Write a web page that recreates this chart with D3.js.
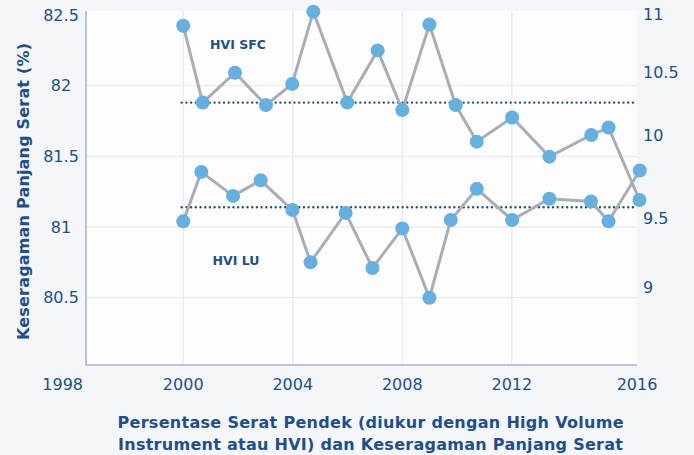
<!DOCTYPE html>
<html>
<head>
<meta charset="utf-8">
<script src="https://cdn.jsdelivr.net/npm/d3@7"></script>
<style>
body { margin: 0; background: #f4f6f9; }
text { font-family: "DejaVu Sans", sans-serif; fill: #1d4f8e; }
</style>
</head>
<body>
<script>
var xTicks = [1998, 2000, 2004, 2008, 2012, 2016];
var leftTicks = [80.5, 81, 81.5, 82, 82.5];
var rightTicks = [9, 9.5, 10, 10.5, 11];

// HVI SFC (right axis)
var sfcYears = [2000.0, 2000.71, 2001.89, 2003.02, 2003.98, 2004.75, 2005.99, 2007.10, 2008.0,
    2008.99, 2009.95, 2010.72, 2012.01, 2013.37, 2014.90, 2015.53, 2016.66];
var sfcValues = [10.90, 10.26, 10.50, 10.24, 10.41, 11.02, 10.26, 10.69, 10.20,
    10.91, 10.24, 9.96, 10.14, 9.87, 10.0, 10.06, 9.61];

// HVI LU (left axis)
var luYears = [2000.0, 2000.66, 2001.82, 2002.83, 2003.99, 2004.65, 2005.93, 2006.91, 2008.0,
    2008.99, 2009.77, 2010.72, 2012.01, 2013.37, 2014.89, 2015.53, 2016.67];
var luValues = [81.04, 81.39, 81.22, 81.33, 81.12, 80.75, 81.10, 80.71, 80.99,
    80.50, 81.05, 81.27, 81.05, 81.20, 81.18, 81.04, 81.40];

var sfcMean = 10.26;
var luMean = 81.14;

var W = 694, H = 455;
var plotL = 86, plotR = 637, plotT = 11, plotB = 365;

var svg = d3.select("body").append("svg")
    .attr("width", W)
    .attr("height", H);

var x = d3.scaleLinear().domain([1996.45, 2016.57]).range([plotL, plotR]);
var y = d3.scaleLinear().domain([80.024, 82.528]).range([plotB, plotT]);
// the right axis labels in the picture are unevenly spaced, so piecewise
var y2 = d3.scaleLinear().domain(rightTicks).range([287.3, 218.3, 135, 72.7, 14]);

svg.append("rect")
    .attr("x", plotL).attr("y", plotT)
    .attr("width", plotR - plotL).attr("height", plotB - plotT)
    .attr("fill", "#fdfdfd");

// grid
svg.append("g").selectAll("line")
    .data(leftTicks.filter(function(d) { return d < 82.5; }))
    .enter().append("line")
    .attr("x1", plotL).attr("x2", plotR)
    .attr("y1", function(d) { return y(d); })
    .attr("y2", function(d) { return y(d); })
    .attr("stroke", "#e7eaee")
    .attr("stroke-width", 1.3);

svg.append("g").selectAll("line")
    .data(xTicks.slice(1, -1))
    .enter().append("line")
    .attr("y1", plotT).attr("y2", plotB)
    .attr("x1", function(d) { return x(d); })
    .attr("x2", function(d) { return x(d); })
    .attr("stroke", "#e7eaee")
    .attr("stroke-width", 1.3);

// axis lines
svg.append("path")
    .attr("d", "M" + plotL + "," + plotT + "V" + plotB + "H" + plotR)
    .attr("fill", "none")
    .attr("stroke", "#a6b2c1")
    .attr("stroke-width", 1.5);

// tick labels
svg.append("g").selectAll("text")
    .data(leftTicks)
    .enter().append("text")
    .attr("x", 61)
    .attr("y", function(d) { return y(d); })
    .attr("dy", "0.36em")
    .attr("text-anchor", "middle")
    .style("font-size", "16px")
    .text(function(d) { return d; });

svg.append("g").selectAll("text")
    .data(rightTicks)
    .enter().append("text")
    .attr("x", plotR + 6)
    .attr("y", function(d) { return y2(d); })
    .attr("dy", "0.36em")
    .style("font-size", "16px")
    .text(function(d) { return d; });

svg.append("g").selectAll("text")
    .data(xTicks)
    .enter().append("text")
    .attr("x", function(d, i) {
        if (i === 0) return plotL - 3;
        if (i === xTicks.length - 1) return plotR;
        return x(d);
    })
    .attr("y", 390)
    .attr("text-anchor", function(d, i) { return i === 0 ? "end" : "middle"; })
    .style("font-size", "16px")
    .text(function(d) { return d; });

// mean lines (dotted)
function meanLine(yv) {
    svg.append("line")
        .attr("x1", x(2000) - 1.5).attr("x2", plotR)
        .attr("y1", yv).attr("y2", yv)
        .attr("stroke", "#1b4f8c")
        .attr("stroke-width", 2.4)
        .attr("stroke-linecap", "round")
        .attr("stroke-dasharray", "0 4.7");
}
meanLine(y2(sfcMean));
meanLine(y(luMean));

// series
var sfc = sfcYears.map(function(d, i) { return [x(d), y2(sfcValues[i])]; });
var lu = luYears.map(function(d, i) { return [x(d), y(luValues[i])]; });

[sfc, lu].forEach(function(pts) {
    svg.append("path")
        .datum(pts)
        .attr("d", d3.line())
        .attr("fill", "none")
        .attr("stroke", "#a8aeb4")
        .attr("stroke-width", 3);
});

[sfc, lu].forEach(function(pts) {
    svg.append("g").selectAll("circle")
        .data(pts)
        .enter().append("circle")
        .attr("cx", function(d) { return d[0]; })
        .attr("cy", function(d) { return d[1]; })
        .attr("r", 7)
        .attr("fill", "#63b0e1");
});

// series labels
svg.append("text")
    .attr("x", 238).attr("y", 44.3).attr("dy", "0.36em")
    .attr("text-anchor", "middle")
    .style("font-size", "12.5px").style("font-weight", "bold")
    .text("HVI SFC");

svg.append("text")
    .attr("x", 236).attr("y", 260.3).attr("dy", "0.36em")
    .attr("text-anchor", "middle")
    .style("font-size", "12.5px").style("font-weight", "bold")
    .text("HVI LU");

// axis titles
svg.append("text")
    .attr("transform", "translate(28.5,191.5) rotate(-90)")
    .attr("text-anchor", "middle")
    .attr("textLength", 297)
    .style("font-size", "16px").style("font-weight", "bold")
    .text("Keseragaman Panjang Serat (%)");

svg.append("text")
    .attr("x", 370.5).attr("y", 428)
    .attr("text-anchor", "middle")
    .attr("textLength", 506)
    .style("font-size", "16px").style("font-weight", "bold")
    .text("Persentase Serat Pendek (diukur dengan High Volume");

svg.append("text")
    .attr("x", 370.5).attr("y", 449.5)
    .attr("text-anchor", "middle")
    .attr("textLength", 505)
    .style("font-size", "16px").style("font-weight", "bold")
    .text("Instrument atau HVI) dan Keseragaman Panjang Serat");
</script>
</body>
</html>
